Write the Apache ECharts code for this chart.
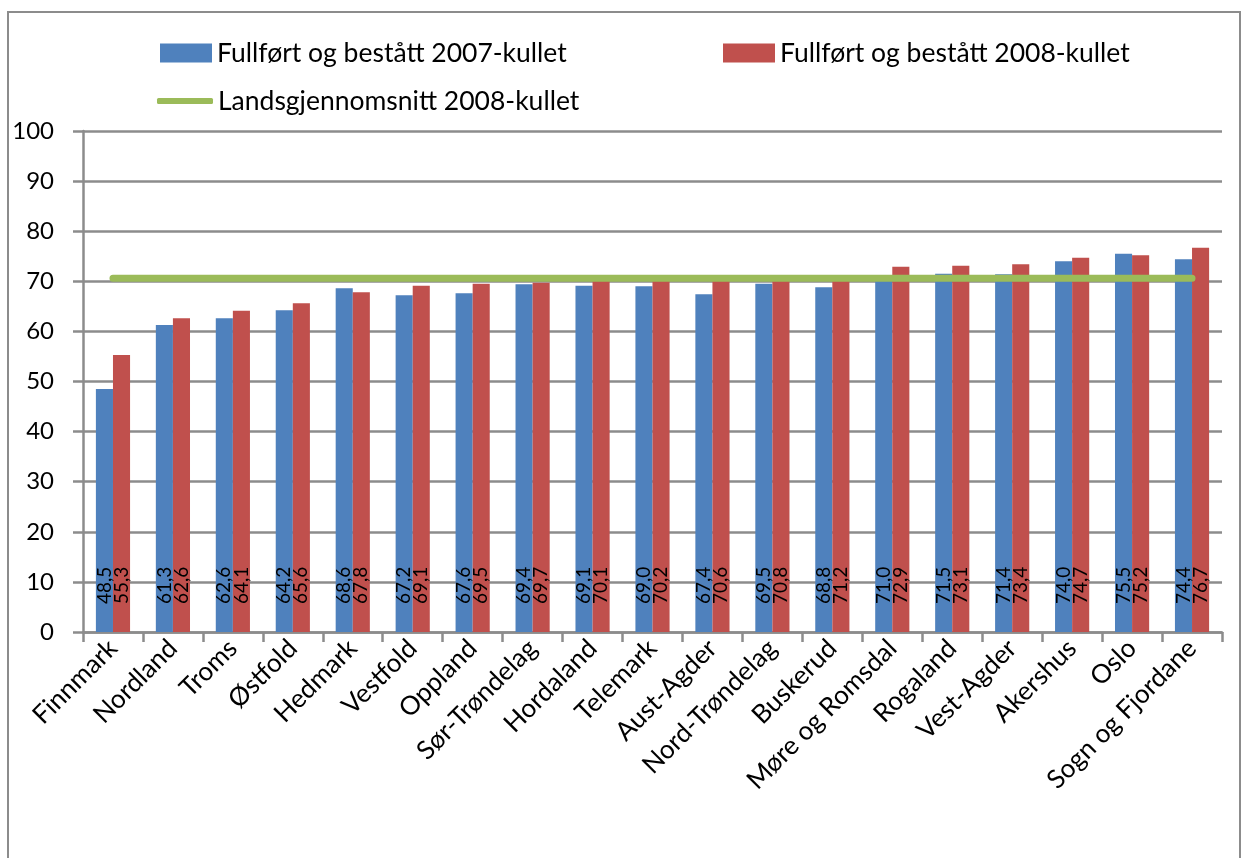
<!DOCTYPE html>
<html>
<head>
<meta charset="utf-8">
<script src="https://cdn.jsdelivr.net/npm/echarts@6/dist/echarts.min.js"></script>
<style>
  html, body { margin: 0; padding: 0; background: #fff; }
  #chart { width: 1246px; height: 858px; }
</style>
</head>
<body>
<div id="chart"></div>
<script>
// fylker, sortert etter 2008-kullet
const fylker = [
  'Finnmark', 'Nordland', 'Troms', 'Østfold', 'Hedmark', 'Vestfold', 'Oppland',
  'Sør-Trøndelag', 'Hordaland', 'Telemark', 'Aust-Agder', 'Nord-Trøndelag',
  'Buskerud', 'Møre og Romsdal', 'Rogaland', 'Vest-Agder', 'Akershus', 'Oslo',
  'Sogn og Fjordane'
]
const kull2007 = [48.5, 61.3, 62.6, 64.2, 68.6, 67.2, 67.6, 69.4, 69.1, 69.0, 67.4, 69.5, 68.8, 71.0, 71.5, 71.4, 74.0, 75.5, 74.4]
const kull2008 = [55.3, 62.6, 64.1, 65.6, 67.8, 69.1, 69.5, 69.7, 70.1, 70.2, 70.6, 70.8, 71.2, 72.9, 73.1, 73.4, 74.7, 75.2, 76.7]
const landssnitt2008 = 70.6
const yTicks = { min: 0, max: 100, interval: 10 }

const FONT = 'Lato, "Open Sans", sans-serif'
const navn07 = 'Fullført og bestått 2007-kullet'
const navn08 = 'Fullført og bestått 2008-kullet'
const navnSnitt = 'Landsgjennomsnitt 2008-kullet'
const GRA = '#8c8c8c'

const chart = echarts.init(document.getElementById('chart'))

const barLabel = {
  show: true,
  position: 'insideBottom',
  distance: 28,
  rotate: 90,
  align: 'left',
  verticalAlign: 'middle',
  fontSize: 19,
  fontFamily: FONT,
  color: '#000',
  formatter: p => p.value.toFixed(1).replace('.', ',')
}

// felles oppsett for de tre legendene
function legende(left, top, data, w, h) {
  return {
    left, top, data,
    padding: 0,
    itemWidth: w,
    itemHeight: h,
    textStyle: { fontSize: 26.5, lineHeight: 30, fontFamily: FONT, color: '#000' }
  }
}

chart.setOption({
  animation: false,
  graphic: [{
    type: 'rect',
    shape: { x: 8, y: 12, width: 1232, height: 900 },
    style: { fill: 'none', stroke: GRA, lineWidth: 2 }
  }],
  legend: [
    legende(160, 38, [{ name: navn07, icon: 'rect' }], 52, 19),
    legende(723, 38, [{ name: navn08, icon: 'rect' }], 52, 19),
    legende(157, 86, [{ name: navnSnitt, icon: 'roundRect' }], 56, 6)
  ],
  grid: { left: 83, right: 24, top: 131, bottom: 226 },
  xAxis: {
    type: 'category',
    data: fylker,
    axisLine: { lineStyle: { color: GRA, width: 2.5 } },
    axisTick: { show: true, length: 10, lineStyle: { color: GRA, width: 2.5 } },
    axisLabel: { rotate: 45, fontSize: 26, fontFamily: FONT, color: '#000', margin: 12, interval: 0 }
  },
  yAxis: {
    type: 'value',
    min: yTicks.min,
    max: yTicks.max,
    interval: yTicks.interval,
    axisLine: { show: true, lineStyle: { color: GRA, width: 2.5 } },
    axisTick: { show: true, length: 10, lineStyle: { color: GRA, width: 2.5 } },
    splitLine: { lineStyle: { color: GRA, width: 2.5 } },
    axisLabel: { fontSize: 24, fontFamily: FONT, color: '#000', margin: 29 }
  },
  series: [
    {
      name: navn07,
      type: 'bar',
      data: kull2007,
      barGap: '0%',
      barCategoryGap: '43%',
      itemStyle: { color: '#4F81BD' },
      label: barLabel
    },
    {
      name: navn08,
      type: 'bar',
      data: kull2008,
      itemStyle: { color: '#C0504D' },
      label: barLabel
    },
    {
      name: navnSnitt,
      type: 'line',
      data: fylker.map(() => landssnitt2008),
      symbol: 'none',
      lineStyle: { color: '#9BBB59', width: 7, cap: 'round' },
      itemStyle: { color: '#9BBB59' },
      z: 5
    }
  ]
})
</script>
</body>
</html>
